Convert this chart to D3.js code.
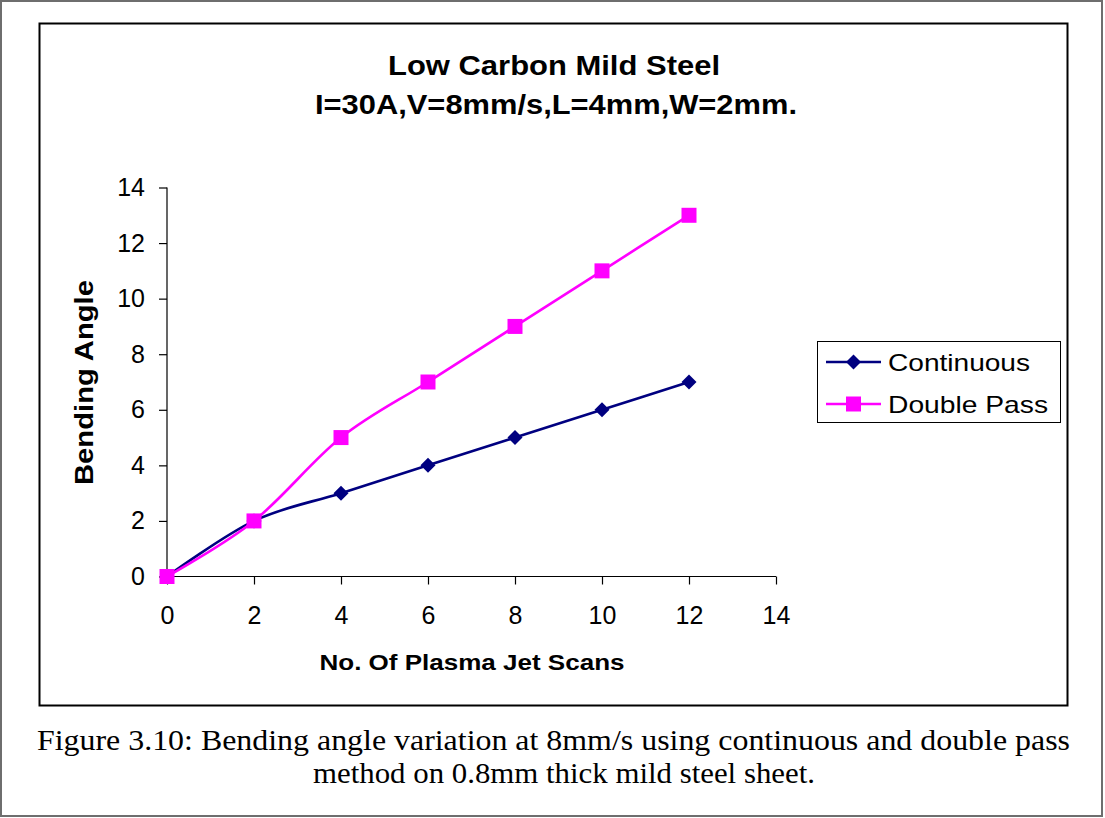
<!DOCTYPE html>
<html><head><meta charset="utf-8">
<script src="https://cdn.jsdelivr.net/npm/d3@7"></script>
<style>body{margin:0;background:#fff}svg{display:block}</style>
</head><body>
<svg id="c" width="1105" height="818"></svg>
<script>
const scans = [0, 2, 4, 6, 8, 10, 12];
const continuous = [0, 2, 3, 4, 5, 6, 7];
const doublePass = [0, 2, 5, 7, 9, 11, 13];
const xTicks = [0, 2, 4, 6, 8, 10, 12, 14];
const yTicks = [0, 2, 4, 6, 8, 10, 12, 14];
const titleLines = ["Low Carbon Mild Steel", "I=30A,V=8mm/s,L=4mm,W=2mm."];
const captionLines = ["Figure 3.10: Bending angle variation at 8mm/s using continuous and double pass", "method on 0.8mm thick mild steel sheet."];
const seriesNames = ["Continuous", "Double Pass"];

const svg = d3.select("#c");
svg.append("rect").attr("x", 1).attr("y", 1).attr("width", 1101).attr("height", 815)
  .attr("fill", "#fff").attr("stroke", "#6e6e6e").attr("stroke-width", 2);
svg.append("rect").attr("x", 39.5).attr("y", 23.5).attr("width", 1028).attr("height", 682)
  .attr("fill", "#fff").attr("stroke", "#000").attr("stroke-width", 2);

const x = d3.scaleLinear().domain([0, 14]).range([167, 776]);
const y = d3.scaleLinear().domain([0, 14]).range([576.5, 187.5]);

const font = "'Liberation Sans', Arial, sans-serif";
const serif = "'Liberation Serif', 'Times New Roman', serif";

function stretchText(sel, len) {
  sel.attr("textLength", len).attr("lengthAdjust", "spacingAndGlyphs");
}

// title
const tLen = [332, 482], tX = [554, 556], tY = [75, 114];
titleLines.forEach((t, i) => {
  svg.append("text").attr("x", tX[i]).attr("y", tY[i])
    .attr("text-anchor", "middle").attr("font-family", font).attr("font-weight", "bold")
    .attr("font-size", 27).text(t).call(stretchText, tLen[i]);
});

// axes
const xAxis = svg.append("g").attr("transform", `translate(0,${y(0)})`)
  .call(d3.axisBottom(x).tickValues(xTicks).tickSize(8).tickPadding(22).tickFormat(d3.format("d")));
const yAxis = svg.append("g").attr("transform", `translate(${x(0)},0)`)
  .call(d3.axisLeft(y).tickValues(yTicks).tickSize(8).tickPadding(14).tickFormat(d3.format("d")));
[xAxis, yAxis].forEach(a => {
  a.selectAll("path").attr("stroke", "#000").attr("stroke-width", 1.2);
  a.selectAll("line").attr("stroke", "#000").attr("stroke-width", 1.2);
  a.selectAll("text").attr("font-family", font).attr("font-size", 25).attr("fill", "#000");
});
xAxis.select(".domain").attr("d", `M${x(0)},0H${x(14)}`);
yAxis.select(".domain").attr("d", `M0,${y(0)}V${y(14)}`);

svg.append("text").attr("x", 472).attr("y", 670).attr("text-anchor", "middle")
  .attr("font-family", font).attr("font-weight", "bold").attr("font-size", 22)
  .text("No. Of Plasma Jet Scans").call(stretchText, 305);
svg.append("text").attr("transform", `translate(93,382.5) rotate(-90)`).attr("text-anchor", "middle")
  .attr("font-family", font).attr("font-weight", "bold").attr("font-size", 26)
  .text("Bending Angle").call(stretchText, 205);

// symbols
const diamond = r => `M0,${-r}L${r},0L0,${r}L${-r},0Z`;
const square = r => `M${-r},${-r}H${r}V${r}H${-r}Z`;
const series = [
  {name: seriesNames[0], values: continuous, color: "#000080", sym: diamond(7.5), len: 142},
  {name: seriesNames[1], values: doublePass, color: "#FF00FF", sym: square(7.5), len: 160}
];
const line = d3.line().x(d => x(d[0])).y(d => y(d[1])).curve(d3.curveCardinal.tension(0));
series.forEach(s => {
  const pts = scans.map((v, i) => [v, s.values[i]]);
  svg.append("path").attr("d", line(pts)).attr("fill", "none")
    .attr("stroke", s.color).attr("stroke-width", 2.6);
});
series.forEach(s => {
  const pts = scans.map((v, i) => [v, s.values[i]]);
  svg.append("g").selectAll("path").data(pts).join("path")
    .attr("transform", d => `translate(${x(d[0])},${y(d[1])})`)
    .attr("d", s.sym).attr("fill", s.color);
});

// legend
const lg = svg.append("g");
lg.append("rect").attr("x", 817.5).attr("y", 341.5).attr("width", 243).attr("height", 81)
  .attr("fill", "#fff").attr("stroke", "#000").attr("stroke-width", 1);
series.forEach((s, i) => {
  const cy = 362 + i * 42;
  lg.append("line").attr("x1", 826).attr("x2", 881).attr("y1", cy).attr("y2", cy)
    .attr("stroke", s.color).attr("stroke-width", 2.6);
  lg.append("path").attr("transform", `translate(853.5,${cy})`)
    .attr("d", s.sym).attr("fill", s.color);
  lg.append("text").attr("x", 888).attr("y", cy + 8.5).attr("font-family", font)
    .attr("font-size", 24).text(s.name).call(stretchText, s.len);
});

// caption
const cLen = [1033, 502], cX = [553.5, 564], cY = [750, 783];
captionLines.forEach((t, i) => {
  svg.append("text").attr("x", cX[i]).attr("y", cY[i]).attr("text-anchor", "middle")
    .attr("font-family", serif).attr("font-size", 29)
    .text(t).call(stretchText, cLen[i]);
});
</script>
</body></html>
